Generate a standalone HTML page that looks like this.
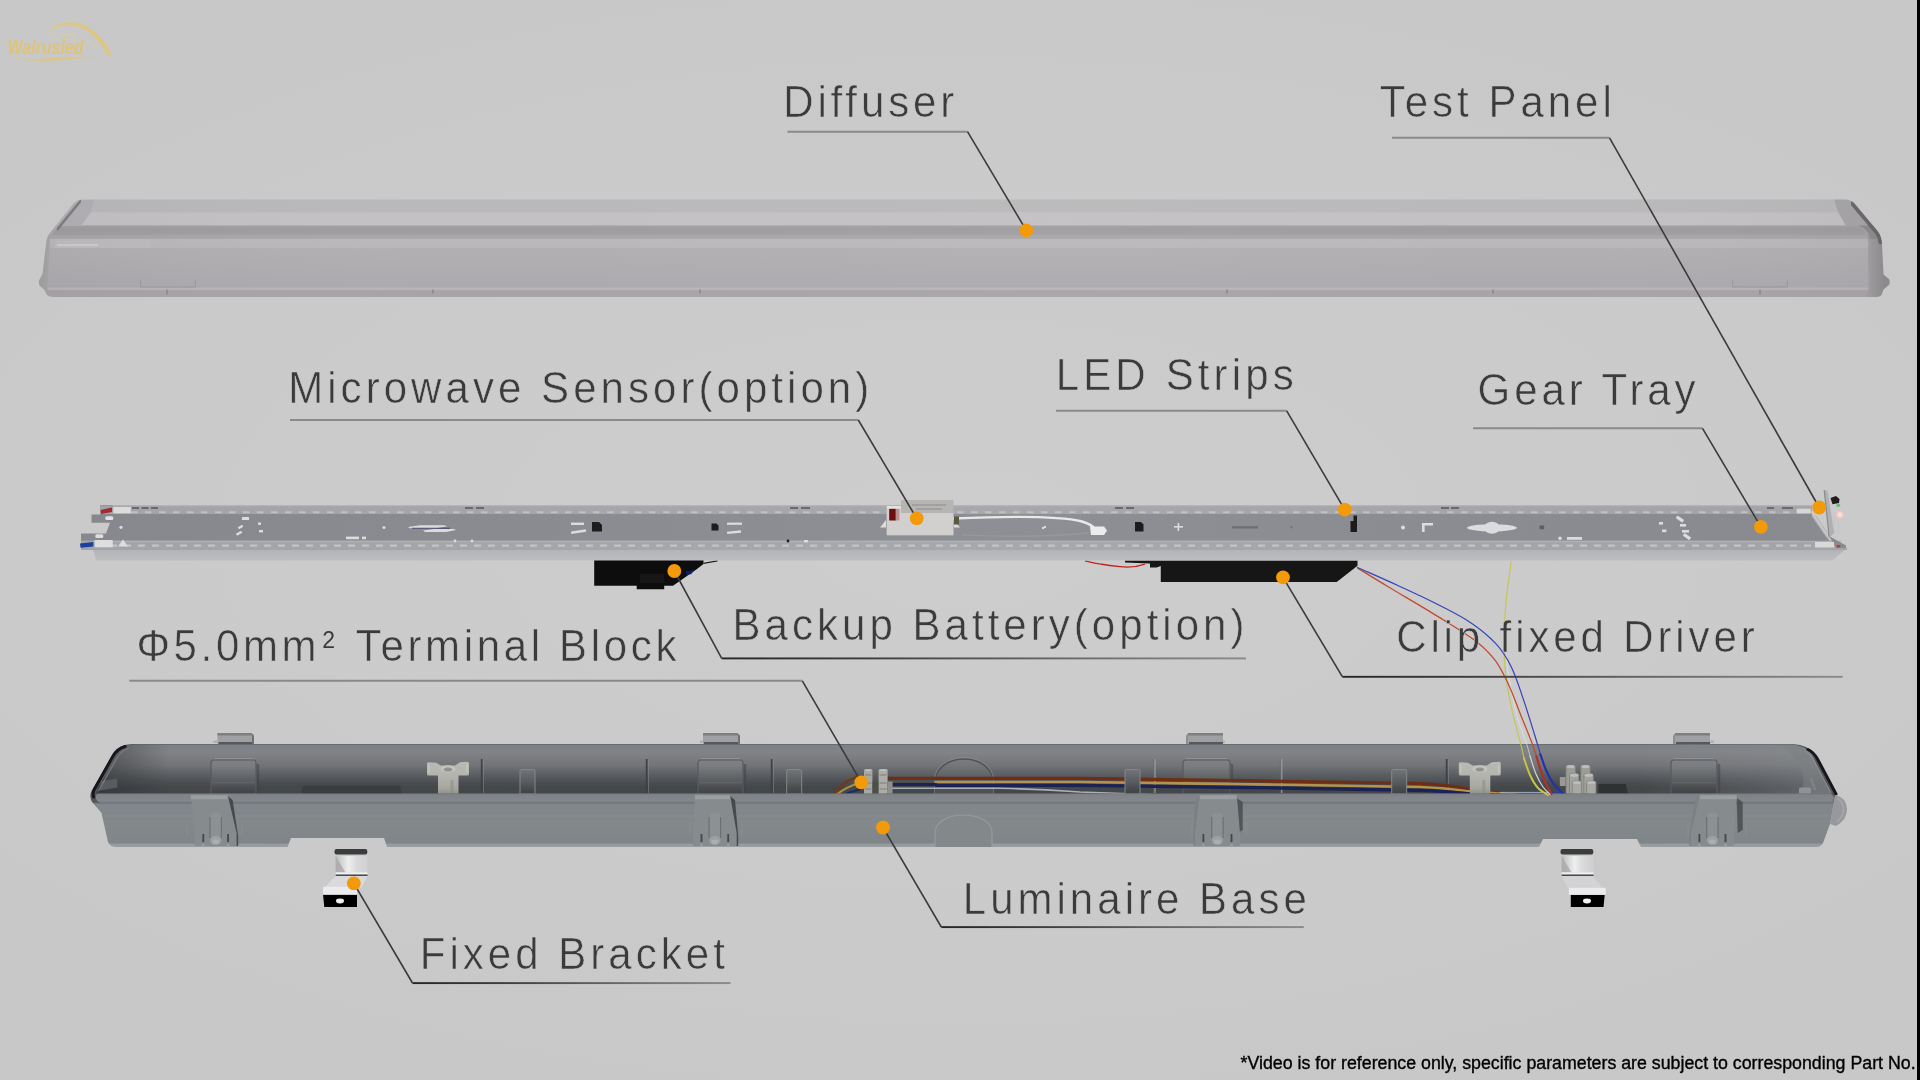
<!DOCTYPE html>
<html lang="en">
<head>
<meta charset="utf-8">
<title>Luminaire exploded view</title>
<style>
html,body{margin:0;padding:0;width:1920px;height:1080px;overflow:hidden;background:#c8c8c8;}
body{font-family:"Liberation Sans",sans-serif;position:relative;}
#stage{position:absolute;left:0;top:0;width:1920px;height:1080px;display:block;}
.lbl{font-family:"Liberation Sans",sans-serif;font-size:42px;fill:#3a3a3a;stroke:#cacaca;stroke-width:0.55px;}
.ul{stroke:#8a8a8a;stroke-width:2;fill:none;}
.dg{stroke:#3a3a3a;stroke-width:1.6;fill:none;}
.dot{fill:#f39a0b;}
.foot{font-family:"Liberation Sans",sans-serif;font-size:17.5px;fill:#000;stroke:#000;stroke-width:0.35;}
</style>
</head>
<body>
<svg id="stage" width="1920" height="1080" viewBox="0 0 1920 1080">
<defs>
<radialGradient id="bg" cx="0.5" cy="0.5" r="0.62" gradientTransform="translate(0 0.08) scale(1 0.84)">
<stop offset="0" stop-color="#cdcdcd"/>
<stop offset="0.6" stop-color="#cbcbcb"/>
<stop offset="1" stop-color="#c8c8c8"/>
</radialGradient>
</defs>
<rect x="0" y="0" width="1920" height="1080" fill="url(#bg)"/>

<!--DIFFUSER-->
<defs>
<filter id="soft" x="-2%" y="-10%" width="104%" height="120%"><feGaussianBlur stdDeviation="0.7"/></filter>
<filter id="soft2" x="-5%" y="-20%" width="110%" height="140%"><feGaussianBlur stdDeviation="1.6"/></filter>
<linearGradient id="dfFront" x1="0" y1="0" x2="0" y2="1">
<stop offset="0" stop-color="#b3b0b4"/><stop offset="0.5" stop-color="#b0adb1"/><stop offset="1" stop-color="#acaaae"/>
</linearGradient>
<linearGradient id="dfDark" x1="0" y1="0" x2="0" y2="1">
<stop offset="0" stop-color="#a4a1a5"/><stop offset="0.3" stop-color="#9f9ca0"/><stop offset="0.68" stop-color="#a3a0a4"/><stop offset="0.75" stop-color="#aaa7ab"/><stop offset="1" stop-color="#aba8ac"/>
</linearGradient>
<linearGradient id="dfH" x1="0" y1="0" x2="1" y2="0">
<stop offset="0" stop-color="#000" stop-opacity="0.03"/><stop offset="0.25" stop-color="#fff" stop-opacity="0"/><stop offset="0.55" stop-color="#fff" stop-opacity="0.03"/><stop offset="0.8" stop-color="#fff" stop-opacity="0"/><stop offset="1" stop-color="#000" stop-opacity="0.03"/>
</linearGradient>
<linearGradient id="dfR" x1="1866" y1="0" x2="1884" y2="0" gradientUnits="userSpaceOnUse">
<stop offset="0" stop-color="#a5a2a6"/><stop offset="1" stop-color="#918e92"/>
</linearGradient>
<linearGradient id="dfL" x1="40" y1="0" x2="58" y2="0" gradientUnits="userSpaceOnUse">
<stop offset="0" stop-color="#a3a0a4"/><stop offset="1" stop-color="#b0adb1"/>
</linearGradient>
<clipPath id="dfClip"><path d="M84 199.500H1845Q1851 199.500 1854.500 203.500L1877.500 231Q1881.500 236 1882 244L1883.500 274.500L1889 279Q1890.500 282 1889 285L1883.500 289.500L1881.500 295Q1880 297 1874 297H54Q48 297 46.500 294.500L44.500 290L39.500 285.500Q38 282 39.500 279.500L42.500 274L46 244Q46.500 237 50.500 232L73.500 203.500Q77 199.500 84 199.500Z"/></clipPath>
</defs>
<g id="diffuser" clip-path="url(#dfClip)">
<g filter="url(#soft)">
<rect x="30" y="190" width="1870" height="115" fill="#b0adb1"/>
<rect x="30" y="190" width="1870" height="22.500" fill="#b9b9bb"/>
<rect x="30" y="212.200" width="1870" height="13.600" fill="#c3c1c4"/>
<rect x="30" y="225.500" width="1870" height="13.700" fill="url(#dfDark)"/>
<rect x="30" y="239" width="1870" height="9" fill="#bbb8bc"/>
<rect x="30" y="247.800" width="1870" height="40" fill="url(#dfFront)"/>
<rect x="30" y="287.600" width="1870" height="2.600" fill="#b8b5b9"/>
<rect x="30" y="290.200" width="1870" height="12" fill="#a8a5a9"/>
<!-- left end cap -->
<path d="M30 190H96L91 212L81 226H30Z" fill="#b2b0b4"/>
<path d="M30 225.500H60Q52 231 50 240L47 300H30Z" fill="url(#dfL)"/>
<path d="M56 239H150V248H54Z" fill="#bdbbbe"/>
<path d="M57 245.200H98" stroke="#dedde0" stroke-width="2.200" opacity="0.5"/>
<!-- right end cap -->
<path d="M1900 190H1831L1838 212L1846 226H1900Z" fill="#a8a5a9"/>
<path d="M1900 225.500H1858Q1868 232 1868 244L1868.500 288L1866 300H1900Z" fill="url(#dfR)"/>
<path d="M1858 225.500Q1869 229 1870 239H1900V225.500Z" fill="#8f8c90"/>
<path d="M1800 239H1866Q1871 243.500 1866 248H1800Z" fill="#b9b6ba"/>
</g>
<path d="M80.500 201L57.500 229" stroke="#737175" stroke-width="2.600" fill="none" stroke-linecap="round" opacity="0.8" filter="url(#soft)"/>
<path d="M1852.500 203.500L1877 232.500Q1880 236 1880.500 242" stroke="#676569" stroke-width="4.400" fill="none" stroke-linecap="round" opacity="0.92" filter="url(#soft)"/>
<rect x="30" y="190" width="1870" height="115" fill="url(#dfH)"/>
</g>
<g stroke="#98959a" stroke-width="1" fill="none" opacity="0.9" filter="url(#soft)">
<path d="M140.500 280.500V287H195.500V280.500"/><path d="M1732.500 280.500V287H1787.500V280.500"/>
<path d="M167 289.500v5M433 289.500v4M700 289.500v4M1227 289.500v4M1493 289.500v4M1760 289.500v5" stroke="#868388" stroke-width="1.500"/>
</g>
<!--TRAY-->
<defs>
<linearGradient id="trPlate" x1="0" y1="0" x2="1" y2="0">
<stop offset="0" stop-color="#87888d"/><stop offset="0.5" stop-color="#8e8f94"/><stop offset="1" stop-color="#898a8f"/>
</linearGradient>
<linearGradient id="trLed" x1="0" y1="0" x2="1" y2="0">
<stop offset="0" stop-color="#a3a4a7"/><stop offset="0.5" stop-color="#a7a8ab"/><stop offset="1" stop-color="#a3a4a7"/>
</linearGradient>
<linearGradient id="trFront" x1="0" y1="0" x2="0" y2="1">
<stop offset="0" stop-color="#b2b3b6"/><stop offset="1" stop-color="#bebec1"/>
</linearGradient>
</defs>
<g id="tray" filter="url(#soft)">
<!-- battery & driver (under tray) -->
<path d="M594.200 560H703.500V564L697 569L673 585.800H664.200V589.200H636.700V585.800H594.200Z" fill="#0d0d0d"/>
<rect x="640" y="574" width="24" height="9" fill="#161616"/>
<path d="M685.800 571l8.500-0.800-3.300 4-5.200 0.300z" fill="#101a70"/>
<path d="M703.500 563.300L717.500 560.800" stroke="#222" stroke-width="1.200"/>
<path d="M1125 560.500H1357.500V565.800L1336.700 582H1160.800V566L1156.500 567.500H1150V563.500L1125 562.500Z" fill="#131313"/>
<path d="M1085 560.800Q1102 565 1120 566.700Q1134 568.200 1145 564.200" stroke="#c4221c" stroke-width="1.300" fill="none"/>
<!-- front edge -->
<path d="M93 549H1846L1832 560.5H96Z" fill="url(#trFront)"/>

<!-- plate -->
<path d="M100 505H1811.500V514L1828 540L1847 550H81V533.500H106L110 522.700H91.500V514.500H100Z" fill="url(#trPlate)"/>
<!-- led strip bands -->
<path d="M100 505.500H1811.500V514H100Z" fill="url(#trLed)"/>
<path d="M81 540.500H1836L1847 548.500V550H81Z" fill="url(#trLed)"/>
<path d="M113 505.6H1815" stroke="#b4b4b6" stroke-width="1.2"/>
<path d="M93 541.4H1841" stroke="#b3b3b6" stroke-width="1"/>
<path d="M117.0 512.2h6.5M131.0 512.2h6.5M145.0 512.2h6.5M159.0 512.2h6.5M173.0 512.2h6.5M187.0 512.2h6.5M201.0 512.2h6.5M215.0 512.2h6.5M229.0 512.2h6.5M243.0 512.2h6.5M257.0 512.2h6.5M271.0 512.2h6.5M285.0 512.2h6.5M299.0 512.2h6.5M313.0 512.2h6.5M327.0 512.2h6.5M341.0 512.2h6.5M355.0 512.2h6.5M369.0 512.2h6.5M383.0 512.2h6.5M397.0 512.2h6.5M411.0 512.2h6.5M425.0 512.2h6.5M439.0 512.2h6.5M453.0 512.2h6.5M467.0 512.2h6.5M481.0 512.2h6.5M495.0 512.2h6.5M509.0 512.2h6.5M523.0 512.2h6.5M537.0 512.2h6.5M551.0 512.2h6.5M565.0 512.2h6.5M579.0 512.2h6.5M593.0 512.2h6.5M607.0 512.2h6.5M621.0 512.2h6.5M635.0 512.2h6.5M649.0 512.2h6.5M663.0 512.2h6.5M677.0 512.2h6.5M691.0 512.2h6.5M705.0 512.2h6.5M719.0 512.2h6.5M733.0 512.2h6.5M747.0 512.2h6.5M761.0 512.2h6.5M775.0 512.2h6.5M789.0 512.2h6.5M803.0 512.2h6.5M817.0 512.2h6.5M831.0 512.2h6.5M845.0 512.2h6.5M859.0 512.2h6.5M873.0 512.2h6.5M887.0 512.2h6.5M901.0 512.2h6.5M915.0 512.2h6.5M929.0 512.2h6.5M943.0 512.2h6.5M957.0 512.2h6.5M971.0 512.2h6.5M985.0 512.2h6.5M999.0 512.2h6.5M1013.0 512.2h6.5M1027.0 512.2h6.5M1041.0 512.2h6.5M1055.0 512.2h6.5M1069.0 512.2h6.5M1083.0 512.2h6.5M1097.0 512.2h6.5M1111.0 512.2h6.5M1125.0 512.2h6.5M1139.0 512.2h6.5M1153.0 512.2h6.5M1167.0 512.2h6.5M1181.0 512.2h6.5M1195.0 512.2h6.5M1209.0 512.2h6.5M1223.0 512.2h6.5M1237.0 512.2h6.5M1251.0 512.2h6.5M1265.0 512.2h6.5M1279.0 512.2h6.5M1293.0 512.2h6.5M1307.0 512.2h6.5M1321.0 512.2h6.5M1335.0 512.2h6.5M1349.0 512.2h6.5M1363.0 512.2h6.5M1377.0 512.2h6.5M1391.0 512.2h6.5M1405.0 512.2h6.5M1419.0 512.2h6.5M1433.0 512.2h6.5M1447.0 512.2h6.5M1461.0 512.2h6.5M1475.0 512.2h6.5M1489.0 512.2h6.5M1503.0 512.2h6.5M1517.0 512.2h6.5M1531.0 512.2h6.5M1545.0 512.2h6.5M1559.0 512.2h6.5M1573.0 512.2h6.5M1587.0 512.2h6.5M1601.0 512.2h6.5M1615.0 512.2h6.5M1629.0 512.2h6.5M1643.0 512.2h6.5M1657.0 512.2h6.5M1671.0 512.2h6.5M1685.0 512.2h6.5M1699.0 512.2h6.5M1713.0 512.2h6.5M1727.0 512.2h6.5M1741.0 512.2h6.5M1755.0 512.2h6.5M1769.0 512.2h6.5M1783.0 512.2h6.5M1797.0 512.2h6.5M1811.0 512.2h6.5" stroke="#c9c9cb" stroke-width="2" opacity="0.75" fill="none"/>
<path d="M96.0 545.7h7M110.0 545.7h7M124.0 545.7h7M138.0 545.7h7M152.0 545.7h7M166.0 545.7h7M180.0 545.7h7M194.0 545.7h7M208.0 545.7h7M222.0 545.7h7M236.0 545.7h7M250.0 545.7h7M264.0 545.7h7M278.0 545.7h7M292.0 545.7h7M306.0 545.7h7M320.0 545.7h7M334.0 545.7h7M348.0 545.7h7M362.0 545.7h7M376.0 545.7h7M390.0 545.7h7M404.0 545.7h7M418.0 545.7h7M432.0 545.7h7M446.0 545.7h7M460.0 545.7h7M474.0 545.7h7M488.0 545.7h7M502.0 545.7h7M516.0 545.7h7M530.0 545.7h7M544.0 545.7h7M558.0 545.7h7M572.0 545.7h7M586.0 545.7h7M600.0 545.7h7M614.0 545.7h7M628.0 545.7h7M642.0 545.7h7M656.0 545.7h7M670.0 545.7h7M684.0 545.7h7M698.0 545.7h7M712.0 545.7h7M726.0 545.7h7M740.0 545.7h7M754.0 545.7h7M768.0 545.7h7M782.0 545.7h7M796.0 545.7h7M810.0 545.7h7M824.0 545.7h7M838.0 545.7h7M852.0 545.7h7M866.0 545.7h7M880.0 545.7h7M894.0 545.7h7M908.0 545.7h7M922.0 545.7h7M936.0 545.7h7M950.0 545.7h7M964.0 545.7h7M978.0 545.7h7M992.0 545.7h7M1006.0 545.7h7M1020.0 545.7h7M1034.0 545.7h7M1048.0 545.7h7M1062.0 545.7h7M1076.0 545.7h7M1090.0 545.7h7M1104.0 545.7h7M1118.0 545.7h7M1132.0 545.7h7M1146.0 545.7h7M1160.0 545.7h7M1174.0 545.7h7M1188.0 545.7h7M1202.0 545.7h7M1216.0 545.7h7M1230.0 545.7h7M1244.0 545.7h7M1258.0 545.7h7M1272.0 545.7h7M1286.0 545.7h7M1300.0 545.7h7M1314.0 545.7h7M1328.0 545.7h7M1342.0 545.7h7M1356.0 545.7h7M1370.0 545.7h7M1384.0 545.7h7M1398.0 545.7h7M1412.0 545.7h7M1426.0 545.7h7M1440.0 545.7h7M1454.0 545.7h7M1468.0 545.7h7M1482.0 545.7h7M1496.0 545.7h7M1510.0 545.7h7M1524.0 545.7h7M1538.0 545.7h7M1552.0 545.7h7M1566.0 545.7h7M1580.0 545.7h7M1594.0 545.7h7M1608.0 545.7h7M1622.0 545.7h7M1636.0 545.7h7M1650.0 545.7h7M1664.0 545.7h7M1678.0 545.7h7M1692.0 545.7h7M1706.0 545.7h7M1720.0 545.7h7M1734.0 545.7h7M1748.0 545.7h7M1762.0 545.7h7M1776.0 545.7h7M1790.0 545.7h7M1804.0 545.7h7M1818.0 545.7h7M1832.0 545.7h7" stroke="#cbcbca" stroke-width="2.2" opacity="0.8" fill="none"/>
<path d="M465 508h8M476 508h8M790 508h8M801 508h9M1115 508h8M1126 508h8M1441 508h8M1451 508h8M1767 508h7M1782 508h11" stroke="#5c5c60" stroke-width="2" opacity="0.8"/>
<!-- left end tabs -->
<path d="M100.500 510L112 507.500V512L101 514Z" fill="#a32a30"/><rect x="113.300" y="507" width="17.500" height="6.300" fill="#dcdcda"/><path d="M132 508H159" stroke="#6a6a6e" stroke-width="2.200" stroke-dasharray="7 2.500"/><rect x="105.300" y="516.300" width="8" height="3.700" rx="1.500" fill="#e2e2e3"/><rect x="95.300" y="534.300" width="8" height="3.700" rx="1.500" fill="#dededf"/><path d="M118 546.500L123 539.500L128 546.500Z" fill="#dcdcdd"/>
<path d="M80 543.500L93.300 542V546.500L80.500 547.800Z" fill="#1a3fa0"/><rect x="94.700" y="540" width="18" height="7.300" fill="#dededf"/>
<!-- plate cut-outs (white marks) -->
<g fill="#dcdcde">
<circle cx="121" cy="527.3" r="1.6"/><rect x="242" y="517" width="7" height="3"/><rect x="238" y="526" width="5" height="2.5" transform="rotate(-30 240 527)"/><rect x="236" y="532" width="6" height="2.5" transform="rotate(-30 239 533)"/>
<rect x="258" y="522.5" width="3" height="2.4"/><rect x="259" y="530" width="4" height="2.4"/>
<rect x="346" y="536.6" width="13" height="2.6"/><rect x="362" y="536.6" width="4" height="2.6"/>
<path d="M408 527L420 525.200H444L447.500 526.200L436 528.200H410Z"/><path d="M423 530.500L434 529H454L456 530L446 532H425Z"/><circle cx="384" cy="527.500" r="1.500"/>
<circle cx="455" cy="541" r="1.4"/><circle cx="472" cy="541" r="1.4"/>
<rect x="571" y="522.6" width="13" height="2.4"/><rect x="571" y="530.4" width="15" height="2.6" transform="rotate(-8 578 531)"/>
<rect x="727" y="522.6" width="15" height="2.2"/><rect x="727" y="531" width="14" height="2.4" transform="rotate(-6 734 532)"/>
<rect x="804" y="540" width="4" height="2.4"/>
<circle cx="1045" cy="527" r="1.2"/>
<rect x="1174" y="526" width="9" height="1.6"/><rect x="1177.6" y="523" width="1.6" height="8"/>
<circle cx="1403" cy="527.6" r="2"/><path d="M1422 523h11v2.4h-8.4v6.6h-2.6z"/>
<ellipse cx="1492" cy="527.8" rx="25" ry="3.6"/><ellipse cx="1492" cy="527.8" rx="8" ry="6"/>
<circle cx="1560" cy="538.3" r="1.7"/><rect x="1567" y="537" width="15" height="2.8"/>
<rect x="1659" y="522" width="4" height="2.6"/><rect x="1662" y="529.5" width="4.4" height="2.6"/>
<rect x="1676" y="517.5" width="8" height="3.2" transform="rotate(35 1680 519)"/><rect x="1680" y="524" width="6" height="2.6"/><rect x="1682" y="530" width="7" height="2.6"/><rect x="1683" y="535" width="8" height="3.2" transform="rotate(35 1687 536.5)"/>
<rect x="1801" y="526.4" width="6" height="2.8"/>
</g>
<path d="M412 528.300L450 528.300" stroke="#3a3a60" stroke-width="1.100" opacity="0.85"/>
<path d="M1232 527.4H1258" stroke="#6c6d71" stroke-width="2.2"/><circle cx="1291.5" cy="527.3" r="1.3" fill="#77787c"/>
<rect x="1539.500" y="525.5" width="4.600" height="3.800" fill="#5c5d61"/>
<!-- black clips -->
<g fill="#1a1a1b">
<path d="M592 522h7l3 3v6.600h-10z"/><path d="M593 523.500h6l2 2.500v5h-8z" transform="translate(0 0)"/>
<path d="M711.500 523.500h5l2 2v5h-7z"/>
<path d="M1135 522h6l2.500 2.500v7h-8.500z"/>
<path d="M1350.500 521h3v-5.500h3.500v16.500h-6.500z"/>
<circle cx="788" cy="541" r="1.4"/>
</g>
<!-- cable loop -->
<path d="M962 534.800Q1030 538.500 1088 533" stroke="#97989c" stroke-width="1.300" fill="none"/>
<path d="M953 518.500C1000 516.500 1060 516 1082 521.500Q1092 524.500 1095 529" stroke="#e9e9ea" stroke-width="2.400" fill="none"/>
<path d="M1090 526.500h14l3 4-3 4.500h-13z" fill="#ececed"/>
<circle cx="1043" cy="528" r="1.200" fill="#dcdcde"/>
<!-- microwave sensor -->
<path d="M880 527.500L886 520V527.500ZM960 527.500L954 520V527.500Z" fill="#dcdcdd"/><rect x="954" y="516.500" width="5" height="8" fill="#5a5a42"/>
<path d="M886.600 506H901V513H953.500V535H886.600Z" fill="#d1d0ce"/>
<rect x="901" y="500" width="52.500" height="13" fill="#b6b5b3"/>
<path d="M912 505h34M916 509h26" stroke="#929295" stroke-width="1.400" opacity="0.8"/>
<rect x="889.200" y="508.700" width="6.600" height="11.800" fill="#6d0d0d"/><rect x="895.800" y="508.700" width="3.600" height="11.800" fill="#b89090"/><rect x="887" y="506" width="14" height="2.500" fill="#e4e3e2"/>
<path d="M887 535.400H953.500" stroke="#a9a9ac" stroke-width="1"/>
<!-- test panel -->
<path d="M1811 514L1828 538.500L1829.500 540.500H1800V514Z" fill="#8a8b90"/>
<path d="M1829 536L1846 545.500V548H1836Z" fill="#8d888b"/>
<path d="M1812 515.500L1827.500 538" stroke="#b7b7ba" stroke-width="1.300"/><path d="M1815.500 515.500L1830 537" stroke="#a9a9ad" stroke-width="1" opacity="0.8"/>
<rect x="1796.700" y="508.700" width="14" height="4.600" fill="#d7d7d8"/>
<rect x="1815" y="542" width="19" height="5.500" fill="#d9d9da"/><rect x="1836.700" y="545" width="3.500" height="2.500" fill="#b0404a"/>
<path d="M1834.200 517.500V533.500M1838.300 519V535" stroke="#c5c5c8" stroke-width="1.500"/>
<path d="M1824.200 490L1827.500 490.800L1834.200 533.300L1829.200 537.500Z" fill="#b0b0b4"/>
<path d="M1824.200 490L1829.200 537.500" stroke="#8a8a8f" stroke-width="1.200"/>
<path d="M1830.500 498l5.500-2 3.500 3-0.500 4-6.500 1.200z" fill="#241a1e"/>
<circle cx="1838.300" cy="505.200" r="1.800" fill="#59c070"/>
<circle cx="1840" cy="514.600" r="4.600" fill="#f0c4ba" opacity="0.75"/><circle cx="1840" cy="514.600" r="2.600" fill="#f9ddd6"/>
</g>
<!--BASE-->
<defs>
<linearGradient id="bsIn" x1="0" y1="744" x2="0" y2="794" gradientUnits="userSpaceOnUse">
<stop offset="0" stop-color="#7d8286"/><stop offset="0.16" stop-color="#818387"/><stop offset="0.42" stop-color="#737478"/><stop offset="0.56" stop-color="#626568"/><stop offset="0.72" stop-color="#505357"/><stop offset="0.86" stop-color="#44474a"/><stop offset="1" stop-color="#434649"/>
</linearGradient>
<linearGradient id="bsFace" x1="0" y1="802" x2="0" y2="847" gradientUnits="userSpaceOnUse">
<stop offset="0" stop-color="#53575b"/><stop offset="0.045" stop-color="#81868a"/><stop offset="0.5" stop-color="#83888b"/><stop offset="0.91" stop-color="#80858a"/><stop offset="0.94" stop-color="#969b9e"/><stop offset="1" stop-color="#999ea1"/>
</linearGradient>
<linearGradient id="bsRim" x1="0" y1="793" x2="0" y2="803" gradientUnits="userSpaceOnUse">
<stop offset="0" stop-color="#64686c"/><stop offset="0.15" stop-color="#7f8388"/><stop offset="0.8" stop-color="#83878c"/><stop offset="1" stop-color="#70747a"/>
</linearGradient>
<linearGradient id="bsBoss" x1="0" y1="759" x2="0" y2="794" gradientUnits="userSpaceOnUse">
<stop offset="0" stop-color="#808286"/><stop offset="0.2" stop-color="#7a7c80"/><stop offset="0.45" stop-color="#666a6d"/><stop offset="0.7" stop-color="#54585b"/><stop offset="0.9" stop-color="#44474a"/><stop offset="1" stop-color="#3f4245"/>
</linearGradient>
<linearGradient id="bsLE" x1="96" y1="0" x2="170" y2="0" gradientUnits="userSpaceOnUse">
<stop offset="0" stop-color="#2e3032" stop-opacity="0.55"/><stop offset="0.45" stop-color="#2e3032" stop-opacity="0.3"/><stop offset="1" stop-color="#2e3032" stop-opacity="0"/>
</linearGradient>
<linearGradient id="bsRE" x1="1640" y1="0" x2="1831" y2="0" gradientUnits="userSpaceOnUse">
<stop offset="0" stop-color="#8a8e91" stop-opacity="0"/><stop offset="0.6" stop-color="#8a8e91" stop-opacity="0.25"/><stop offset="1" stop-color="#8a8e91" stop-opacity="0.5"/>
</linearGradient>
<linearGradient id="tclip" x1="0" y1="761" x2="0" y2="795" gradientUnits="userSpaceOnUse">
<stop offset="0" stop-color="#b9bab5"/><stop offset="0.45" stop-color="#b3b4ae"/><stop offset="0.8" stop-color="#a5a6a0"/><stop offset="1" stop-color="#8c8d87"/>
</linearGradient>
<linearGradient id="brk" x1="0" y1="0" x2="1" y2="0">
<stop offset="0" stop-color="#bcbcbf"/><stop offset="0.4" stop-color="#eeeeef"/><stop offset="0.65" stop-color="#dadadc"/><stop offset="1" stop-color="#cfcfd2"/>
</linearGradient>
<linearGradient id="bsInH" x1="96" y1="0" x2="1831" y2="0" gradientUnits="userSpaceOnUse">
<stop offset="0" stop-color="#fff" stop-opacity="0.08"/><stop offset="0.1" stop-color="#000" stop-opacity="0.04"/><stop offset="0.3" stop-color="#000" stop-opacity="0.12"/><stop offset="0.42" stop-color="#fff" stop-opacity="0.03"/><stop offset="0.55" stop-color="#fff" stop-opacity="0.12"/><stop offset="0.75" stop-color="#fff" stop-opacity="0.08"/><stop offset="0.88" stop-color="#fff" stop-opacity="0.0"/><stop offset="1" stop-color="#fff" stop-opacity="0.1"/>
</linearGradient>
<linearGradient id="bsInV" x1="0" y1="744" x2="0" y2="794" gradientUnits="userSpaceOnUse"><stop offset="0" stop-color="#fff" stop-opacity="0"/><stop offset="0.3" stop-color="#fff" stop-opacity="0.3"/><stop offset="1" stop-color="#fff" stop-opacity="1"/></linearGradient>
<mask id="bsInM"><rect x="90" y="744" width="1760" height="50" fill="url(#bsInV)"/></mask>
</defs>
<g id="base" filter="url(#soft)">
<path d="M213.5 740.5H217.5V743H213.5ZM252 740.5H252V743H252Z" fill="#b0b0b4"/><path d="M252 733.6L254 735.5V744H252Z" fill="#6f7073"/><path d="M217.5 733H252V744.5H217.5Z" fill="#9fa0a4"/><path d="M217.5 734.2H252" stroke="#7f7f82" stroke-width="2.4"/><path d="M218.5 743H252" stroke="#56575b" stroke-width="1.8"/>
<path d="M700 740.5H703V743H700ZM738 740.5H740V743H738Z" fill="#b0b0b4"/><path d="M738 733.6L740 735.5V744H738Z" fill="#6f7073"/><path d="M703 733H738V744.5H703Z" fill="#9fa0a4"/><path d="M703 734.2H738" stroke="#7f7f82" stroke-width="2.4"/><path d="M704 743H738" stroke="#56575b" stroke-width="1.8"/>
<path d="M1186 740.5H1188V743H1186ZM1223 740.5H1225V743H1223Z" fill="#b0b0b4"/><path d="M1188 733.6L1186 735.5V744H1188Z" fill="#8d8e92"/><path d="M1188 733H1223V744.5H1188Z" fill="#9fa0a4"/><path d="M1188 734.2H1223" stroke="#7f7f82" stroke-width="2.4"/><path d="M1189 743H1223" stroke="#56575b" stroke-width="1.8"/>
<path d="M1675 740.5H1675V743H1675ZM1710 740.5H1714V743H1710Z" fill="#b0b0b4"/><path d="M1675 733.6L1673 735.5V744H1675Z" fill="#8d8e92"/><path d="M1675 733H1710V744.5H1675Z" fill="#9fa0a4"/><path d="M1675 734.2H1710" stroke="#7f7f82" stroke-width="2.4"/><path d="M1676 743H1710" stroke="#56575b" stroke-width="1.8"/>
<path d="M132 744H1793Q1808 745 1815 754L1834 790Q1836 794 1835 798L1830 824L1823 843Q1821 847 1816 847H1641L1637 839H1543L1539 847H387L384 838H291L287.5 847H116Q110 847 108 842L101.5 813L92 802Q89 797 91.5 791L112 756Q119 744 132 744Z" fill="url(#bsFace)"/>
<path d="M134 744.5H1792Q1806 746 1812 755L1831 794H96Q98 786 102 780L116 757Q122 745 134 744.5Z" fill="url(#bsIn)"/>
<path d="M134 744.500Q122 745 116 757L100 786Q98 790 98 794H170V744.500Z" fill="url(#bsLE)"/>
<path d="M1640 744.5H1792Q1806 746 1812 755L1831 794H1640Z" fill="url(#bsRE)"/>
<path d="M1792 745Q1806 746 1812 755L1831 794H1800Q1808 780 1798 762L1788 750Q1784 746 1776 745Z" fill="#7b7f82" opacity="0.55"/>
<path d="M481.7 759V793" stroke="#3d3f42" stroke-width="1.8" opacity="0.9"/><path d="M483.5 759V793" stroke="#8a8d91" stroke-width="1" opacity="0.5"/>
<path d="M646.7 759V793" stroke="#3d3f42" stroke-width="1.8" opacity="0.9"/><path d="M648.5 759V793" stroke="#8a8d91" stroke-width="1" opacity="0.5"/>
<path d="M771.7 759V793" stroke="#3d3f42" stroke-width="1.8" opacity="0.9"/><path d="M773.5 759V793" stroke="#8a8d91" stroke-width="1" opacity="0.5"/>
<path d="M1155 759V793" stroke="#9a9da1" stroke-width="1.5" opacity="0.8"/><path d="M1153.5 759V793" stroke="#66696d" stroke-width="1" opacity="0.5"/>
<path d="M1281.7 759V793" stroke="#9a9da1" stroke-width="1.5" opacity="0.8"/><path d="M1280.2 759V793" stroke="#66696d" stroke-width="1" opacity="0.5"/>
<path d="M1446.7 759V793" stroke="#3d3f42" stroke-width="1.8" opacity="0.9"/><path d="M1448.5 759V793" stroke="#8a8d91" stroke-width="1" opacity="0.5"/>
<path d="M936 794V779A28 20 0 0 1 992 779V794" fill="#808387" fill-opacity="0.18" stroke="#4f5256" stroke-width="1.4"/><path d="M934.6 794V779A29.4 21.4 0 0 1 993.4 779V794" fill="none" stroke="#8f9296" stroke-width="1" opacity="0.6"/>
<path d="M303 785.5H400L402 794H301Z" fill="#3b3e41"/><path d="M1598.500 784H1626L1628 794.600H1598.500Z" fill="#2f3133"/>
<path d="M214 758.6H253" stroke="#8f9195" stroke-width="1.4"/><path d="M214 760H253Q256 760 256 763V794H211V763Q211 760 214 760Z" fill="url(#bsBoss)" stroke="#585a5e" stroke-width="1.2"/><path d="M212 782.6H255" stroke="#63676a" stroke-width="1.2" opacity="0.8"/><path d="M258 764V793" stroke="#3f4245" stroke-width="2.4" opacity="0.5"/>
<path d="M701 758.6H740" stroke="#8f9195" stroke-width="1.4"/><path d="M701 760H740Q743 760 743 763V794H698V763Q698 760 701 760Z" fill="url(#bsBoss)" stroke="#585a5e" stroke-width="1.2"/><path d="M699 782.6H742" stroke="#63676a" stroke-width="1.2" opacity="0.8"/><path d="M745 764V793" stroke="#3f4245" stroke-width="2.4" opacity="0.5"/>
<path d="M1186 758.6H1227" stroke="#8f9195" stroke-width="1.4"/><path d="M1186 760H1227Q1230 760 1230 763V794H1183V763Q1183 760 1186 760Z" fill="url(#bsBoss)" stroke="#585a5e" stroke-width="1.2"/><path d="M1184 782.6H1229" stroke="#63676a" stroke-width="1.2" opacity="0.8"/><path d="M1232 764V793" stroke="#3f4245" stroke-width="2.4" opacity="0.5"/>
<path d="M1674 758.6H1714" stroke="#8f9195" stroke-width="1.4"/><path d="M1674 760H1714Q1717 760 1717 763V794H1671V763Q1671 760 1674 760Z" fill="url(#bsBoss)" stroke="#585a5e" stroke-width="1.2"/><path d="M1672 782.6H1716" stroke="#63676a" stroke-width="1.2" opacity="0.8"/><path d="M1719 764V793" stroke="#3f4245" stroke-width="2.4" opacity="0.5"/>
<g fill="none" stroke-linecap="round">
<path d="M834 794Q842 782 857 777" stroke="#6e3a1c" stroke-width="2.6"/>
<path d="M836 795Q846 787 859 783" stroke="#a98f45" stroke-width="2"/>
<path d="M840 796Q850 792 861 789" stroke="#1f2a6a" stroke-width="2.2"/>
<path d="M888 778.4H1080L1300 781.5L1420 783.5Q1446 784.5 1466 788.5L1500 793" stroke="#6e2e14" stroke-width="3.2"/>
<path d="M936 782H1080L1300 785L1420 787Q1446 788 1466 791L1518 795" stroke="#b3944f" stroke-width="2.6"/>
<path d="M888 784.5H936" stroke="#1b2154" stroke-width="3.2"/>
<path d="M936 785.4H1080L1300 788.3L1420 790.3Q1446 791.3 1466 793.4L1520 796" stroke="#1b2154" stroke-width="3.2"/>
<path d="M890 788.3H1000Q1040 789 1080 792L1150 794.5" stroke="#a9b0b8" stroke-width="1.6"/>
<path d="M1520 793H1562" stroke="#2b3da8" stroke-width="1.4"/><path d="M1500 792.4H1548" stroke="#d6d6d6" stroke-width="1" opacity="0.7"/>
</g>
<path d="M520 771Q520 769.5 521.5 769.5H533.5Q535 769.5 535 771V794H520Z" fill="url(#bsBoss)" stroke="#84878b" stroke-width="1"/>
<path d="M786.7 771Q786.7 769.5 788.2 769.5H800.2Q801.7 769.5 801.7 771V794H786.7Z" fill="url(#bsBoss)" stroke="#84878b" stroke-width="1"/>
<path d="M1125 771Q1125 769.5 1126.5 769.5H1138.5Q1140 769.5 1140 771V794H1125Z" fill="url(#bsBoss)" stroke="#84878b" stroke-width="1"/>
<path d="M1391.7 771Q1391.7 769.5 1393.2 769.5H1405.2Q1406.7 769.5 1406.7 771V794H1391.7Z" fill="url(#bsBoss)" stroke="#84878b" stroke-width="1"/>
<path d="M427 763.500Q427 762.300 428.5 762.300L436 762.800L441 765.500H455L460 762.300L467.5 761.800Q469 761.800 469 763.500V774Q469 775.600 467 775.600H458.5V794.300H438V775.600H429Q427 775.600 427 774Z" fill="url(#tclip)"/><ellipse cx="448" cy="768.800" rx="7.500" ry="3.600" fill="#c3c4bf"/><ellipse cx="448" cy="769.400" rx="4.200" ry="2" fill="#92938c"/><path d="M429 764.500V773M467 764.500V773" stroke="#c6c8c6" stroke-width="1.600" opacity="0.8"/><path d="M452 780V793" stroke="#8d8e88" stroke-width="3" opacity="0.6"/>
<path d="M1458.8 763.500Q1458.8 762.300 1460.3 762.300L1467.8 762.800L1472.8 765.500H1486.8L1491.8 762.300L1499.3 761.800Q1500.8 761.800 1500.8 763.500V774Q1500.8 775.600 1498.8 775.600H1490.3V794.300H1469.8V775.600H1460.8Q1458.8 775.600 1458.8 774Z" fill="url(#tclip)"/><ellipse cx="1479.8" cy="768.800" rx="7.500" ry="3.600" fill="#c3c4bf"/><ellipse cx="1479.8" cy="769.400" rx="4.200" ry="2" fill="#92938c"/><path d="M1460.8 764.500V773M1498.8 764.500V773" stroke="#c6c8c6" stroke-width="1.600" opacity="0.8"/><path d="M1483.8 780V793" stroke="#8d8e88" stroke-width="3" opacity="0.6"/>
<rect x="1799" y="787.500" width="12" height="6.500" rx="1.500" fill="#8f9396"/><path d="M1811 778l4 12" stroke="#85898c" stroke-width="2.500" opacity="0.7"/>
<path d="M101 781l16 -2.500 0.500 9 -17 3z" fill="#5c5f62" opacity="0.9"/>
<g>
<rect x="864" y="769" width="8.4" height="25.5" rx="1.2" fill="#a9a9a4"/><rect x="878.6" y="769" width="9" height="25.5" rx="1.2" fill="#adada8"/>
<rect x="872.6" y="782" width="5.6" height="12.5" fill="#4a5244"/><rect x="887.6" y="781.5" width="5" height="13" fill="#8f908c"/>
<path d="M865 775h6.4M879.6 775h7M865 783h6.4M879.6 783h7M865 789h6.4M879.6 789h7" stroke="#7f7f7a" stroke-width="1.2"/>
<path d="M866 770.2h4.4M880.6 770.2h5" stroke="#c2c4c4" stroke-width="1.4"/>
</g>
<g><rect x="1559.800" y="777" width="6" height="9" rx="1" fill="#9a9a95"/><rect x="1566.0" y="765.0" width="9.400" height="29.6" rx="2" fill="#9c9c97" stroke="#7d7d78" stroke-width="0.800"/><ellipse cx="1570.7" cy="766.6" rx="4.200" ry="1.700" fill="#b9bdc0"/><rect x="1580.8" y="765.0" width="9.400" height="29.6" rx="2" fill="#9c9c97" stroke="#7d7d78" stroke-width="0.800"/><ellipse cx="1585.5" cy="766.6" rx="4.200" ry="1.700" fill="#b9bdc0"/><rect x="1569.5" y="773.6" width="9.400" height="21.0" rx="2" fill="#a3a39e" stroke="#7d7d78" stroke-width="0.800"/><ellipse cx="1574.2" cy="775.2" rx="4.200" ry="1.700" fill="#b9bdc0"/><rect x="1583.9" y="773.6" width="9.400" height="21.0" rx="2" fill="#a3a39e" stroke="#7d7d78" stroke-width="0.800"/><ellipse cx="1588.6" cy="775.2" rx="4.200" ry="1.700" fill="#b9bdc0"/><rect x="1572.2" y="781.0" width="9.400" height="13.6" rx="2" fill="#a9a9a4" stroke="#7d7d78" stroke-width="0.800"/><ellipse cx="1576.9" cy="782.6" rx="4.200" ry="1.700" fill="#b9bdc0"/><rect x="1586.6" y="781.0" width="9.400" height="13.6" rx="2" fill="#a9a9a4" stroke="#7d7d78" stroke-width="0.800"/><ellipse cx="1591.3" cy="782.6" rx="4.200" ry="1.700" fill="#b9bdc0"/></g>
<path d="M96.5 794.5Q97 793.5 99 793.5H1831L1834 797L1833 803H101Q94 801 96.5 794.5Z" fill="url(#bsRim)"/>
<path d="M99 794H1831" stroke="#74777b" stroke-width="1" opacity="0.6"/>
<path d="M125 746.5Q117.5 748.5 113 756L94 790Q92.500 793.500 93.500 797" stroke="#17181a" stroke-width="3" fill="none" stroke-linecap="round"/><path d="M128.500 748.500Q121.500 750.500 117 758L98.500 791" stroke="#7d8185" stroke-width="1.200" fill="none" opacity="0.9"/>
<path d="M1808 749.500Q1813.500 752 1817.500 759L1836 794" stroke="#17181a" stroke-width="3" fill="none" stroke-linecap="round"/><path d="M1804 750.500Q1809.500 753 1813.500 760L1831 793" stroke="#8b8f92" stroke-width="1.200" fill="none" opacity="0.9"/>
<path d="M1835 795Q1846 797 1847 809Q1847 820 1836 826L1830 824L1834 800Z" fill="#98999c"/><path d="M1837 798Q1843 801 1843.500 809Q1843 817 1837 822" stroke="#a9aaad" stroke-width="2" fill="none" opacity="0.7"/>
<path d="M104 816H1828" stroke="#8f9497" stroke-width="1" opacity="0.5"/>
<path d="M935 847V832A28.5 17 0 0 1 992 832V847" fill="#83888b" stroke="#969b9e" stroke-width="1.2"/><path d="M950 826a13 9 0 0 0 26 0" stroke="#83868a" stroke-width="1" fill="none"/>
<path d="M227.6 796L232.6 800L238.1 836V846H232.6Z" fill="#3f4245" opacity="0.9"/><path d="M190.8 794.5H227.6L236.6 833V846H229.6V838.5H226.6V846H204.8V838.5H201.8V846H194.8V833Z" fill="#868b8e"/><path d="M190.8 797.2H227.6" stroke="#999ea1" stroke-width="4"/><path d="M210.2 817Q209.7 812.5 215.7 812.5Q221.7 812.5 221.2 817V840H210.2Z" fill="#8c9194"/><path d="M210.0 817V838M221.4 817V838" stroke="#6c7174" stroke-width="1.2"/><ellipse cx="215.7" cy="840.5" rx="5.5" ry="4.5" fill="#9ca1a4"/><ellipse cx="215.7" cy="841.8" rx="3.4" ry="2.2" fill="#aaafb2"/><path d="M203.3 834V842M228.1 834V842" stroke="#44474a" stroke-width="1.8"/>
<path d="M730.0 796L735.0 800L738.2 836V846H732.7Z" fill="#3f4245" opacity="0.9"/><path d="M695.0 794.5H730.0L736.7 833V846H729.7V838.5H726.7V846H703.0V838.5H700.0V846H693.0V833Z" fill="#868b8e"/><path d="M695.0 797.2H730.0" stroke="#999ea1" stroke-width="4"/><path d="M709.4 817Q708.9 812.5 714.9 812.5Q720.9 812.5 720.4 817V840H709.4Z" fill="#8c9194"/><path d="M709.1 817V838M720.6 817V838" stroke="#6c7174" stroke-width="1.2"/><ellipse cx="714.9" cy="840.5" rx="5.5" ry="4.5" fill="#9ca1a4"/><ellipse cx="714.9" cy="841.8" rx="3.4" ry="2.2" fill="#aaafb2"/><path d="M701.5 834V842M728.2 834V842" stroke="#44474a" stroke-width="1.8"/>
<path d="M1199.9 796L1194.9 800L1193.4 836V846H1198.9Z" fill="#7b8083" opacity="0.95"/><path d="M1236.7 798L1242.7 802V830L1237.7 833Z" fill="#45484b" opacity="0.8"/><path d="M1199.9 794.5H1236.7L1240.0 833V846H1233.0V838.5H1230.0V846H1204.9V838.5H1201.9V846H1194.9V833Z" fill="#868b8e"/><path d="M1199.9 797.2H1236.7" stroke="#999ea1" stroke-width="4"/><path d="M1211.9 817Q1211.4 812.5 1217.4 812.5Q1223.4 812.5 1222.9 817V840H1211.9Z" fill="#8c9194"/><path d="M1211.7 817V838M1223.1 817V838" stroke="#6c7174" stroke-width="1.2"/><ellipse cx="1217.4" cy="840.5" rx="5.5" ry="4.5" fill="#9ca1a4"/><ellipse cx="1217.4" cy="841.8" rx="3.4" ry="2.2" fill="#aaafb2"/><path d="M1203.4 834V842M1231.5 834V842" stroke="#44474a" stroke-width="1.8"/>
<path d="M1699.9 796L1694.9 800L1689.4 836V846H1694.9Z" fill="#7b8083" opacity="0.95"/><path d="M1736.7 798L1742.7 802V830L1737.7 833Z" fill="#45484b" opacity="0.8"/><path d="M1699.9 794.5H1736.7L1734.0 833V846H1727.0V838.5H1724.0V846H1700.9V838.5H1697.9V846H1690.9V833Z" fill="#868b8e"/><path d="M1699.9 797.2H1736.7" stroke="#999ea1" stroke-width="4"/><path d="M1706.9 817Q1706.4 812.5 1712.4 812.5Q1718.4 812.5 1717.9 817V840H1706.9Z" fill="#8c9194"/><path d="M1706.7 817V838M1718.1 817V838" stroke="#6c7174" stroke-width="1.2"/><ellipse cx="1712.4" cy="840.5" rx="5.5" ry="4.5" fill="#9ca1a4"/><ellipse cx="1712.4" cy="841.8" rx="3.4" ry="2.2" fill="#aaafb2"/><path d="M1699.4 834V842M1725.5 834V842" stroke="#44474a" stroke-width="1.8"/>
<path d="M187 822V836" stroke="#8f9497" stroke-width="1.2" opacity="0.5"/>
<path d="M242 822V836" stroke="#8f9497" stroke-width="1.2" opacity="0.5"/>
<path d="M690 822V836" stroke="#8f9497" stroke-width="1.2" opacity="0.5"/>
<path d="M742 822V836" stroke="#8f9497" stroke-width="1.2" opacity="0.5"/>
<path d="M1192 822V836" stroke="#8f9497" stroke-width="1.2" opacity="0.5"/>
<path d="M1246 822V836" stroke="#8f9497" stroke-width="1.2" opacity="0.5"/>
<path d="M1688 822V836" stroke="#8f9497" stroke-width="1.2" opacity="0.5"/>
<path d="M1746 822V836" stroke="#8f9497" stroke-width="1.2" opacity="0.5"/>
</g>
<g filter="url(#soft)"><rect x="334.5" y="849" width="32.800" height="5.600" rx="2" fill="#3b3e3d"/><rect x="335.7" y="856" width="31.800" height="16.400" fill="url(#brk)"/><path d="M335.7 856L335.7 872.400L345.5 872.400Z" fill="#a9a9ac" opacity="0.8"/><rect x="335.7" y="872.300" width="31.800" height="2.200" fill="#f0f0f1"/><path d="M335.7 875.200H367.5" stroke="#4a4c4b" stroke-width="1.400"/><path d="M335.7 876H367.5L361.5 887.500H324.5Z" fill="#dadadc"/><rect x="323.0" y="886.800" width="34" height="7.200" fill="#ebebed"/><path d="M323.1 895H357.0V907H324.3Z" fill="#050505"/><ellipse cx="340.0" cy="901" rx="4" ry="2.400" fill="#f0f0f0"/></g>
<g filter="url(#soft)"><rect x="1560.5" y="849" width="32.800" height="5.600" rx="2" fill="#3b3e3d"/><rect x="1561.7" y="856" width="31.800" height="16.400" fill="url(#brk)"/><path d="M1561.7 856L1561.7 872.400L1571.5 872.400Z" fill="#a9a9ac" opacity="0.8"/><rect x="1561.7" y="872.300" width="31.800" height="2.200" fill="#f0f0f1"/><path d="M1561.7 875.200H1593.5" stroke="#4a4c4b" stroke-width="1.400"/><path d="M1561.7 876H1592.5L1602.7 888H1567.5Z" fill="#d3d3d5"/><rect x="1568.8" y="887.800" width="37" height="6.800" fill="#ebebed"/><path d="M1570.8 895H1604.7L1603.5 907H1570.8Z" fill="#050505"/><ellipse cx="1587.0" cy="901" rx="4" ry="2.400" fill="#f0f0f0"/></g>
<!--WIRES-->
<g id="wires" fill="none" stroke-linecap="round" filter="url(#soft)">
<path d="M1511.2 561.7C1510.4 567.9 1507.4 587.6 1506.3 598.6C1505.2 609.6 1504.7 617.7 1504.4 627.8C1504.1 637.9 1503.9 649.3 1504.4 659.0C1504.9 668.7 1505.8 676.8 1507.3 686.2C1508.8 695.6 1510.9 705.7 1513.2 715.4C1515.5 725.1 1519.1 737.5 1520.9 744.6C1522.7 751.7 1523.4 755.8 1523.9 758.0" stroke="#c3c74a" stroke-width="1.200" opacity="0.9"/>
<path d="M1523.9 758.0C1524.9 760.8 1527.7 770.0 1530.0 775.0C1532.3 780.0 1535.0 784.7 1538.0 788.0C1541.0 791.3 1546.3 793.8 1548.0 795.0" stroke="#c6c640" stroke-width="2"/>
<path d="M1506.5 655.0C1506.8 657.8 1506.4 662.5 1508.0 672.0C1509.6 681.5 1512.9 699.9 1516.0 712.0C1519.1 724.1 1524.5 737.3 1526.8 744.6C1529.1 751.9 1529.5 754.1 1530.0 756.0" stroke="#e6e6e6" stroke-width="1" opacity="0.7"/>
<path d="M1530.0 756.0C1531.0 759.0 1533.8 768.8 1536.0 774.0C1538.2 779.2 1540.6 783.6 1543.0 787.0C1545.4 790.4 1549.2 793.2 1550.5 794.5" stroke="#dcdcdc" stroke-width="1.300" opacity="0.9"/>
<path d="M1357.5 568.0C1362.7 571.2 1375.3 579.0 1388.6 587.0C1401.9 595.0 1422.7 607.0 1437.3 616.1C1451.9 625.2 1466.5 633.9 1476.2 641.4C1485.9 648.9 1490.1 653.4 1495.6 660.9C1501.1 668.4 1505.1 677.1 1509.3 686.2C1513.5 695.3 1517.0 705.7 1520.9 715.4C1524.8 725.1 1530.0 737.8 1532.6 744.6C1535.2 751.4 1535.8 754.3 1536.5 756.2" stroke="#c4472f" stroke-width="1.250"/>
<path d="M1536.5 756.2C1537.2 758.7 1539.4 766.4 1541.0 771.0C1542.6 775.6 1544.2 780.2 1546.0 784.0C1547.8 787.8 1550.6 792.3 1551.5 794.0" stroke="#b0302a" stroke-width="2.200"/>
<path d="M1357.5 567.5C1367.5 572.0 1399.6 586.0 1417.8 594.7C1436.0 603.5 1453.5 611.9 1466.5 620.0C1479.5 628.1 1488.1 635.6 1495.6 643.4C1503.0 651.2 1506.7 657.6 1511.2 666.7C1515.8 675.8 1519.0 686.5 1522.9 697.9C1526.8 709.2 1531.7 725.4 1534.6 734.8C1537.5 744.2 1539.4 751.0 1540.4 754.3" stroke="#3744b8" stroke-width="1.250"/>
<path d="M1540.4 754.3C1541.3 756.9 1543.9 765.2 1546.0 770.0C1548.1 774.8 1550.3 779.2 1553.0 783.0C1555.7 786.8 1560.5 790.9 1562.0 792.5" stroke="#2233a8" stroke-width="2.200"/>
</g>
<!-- logo -->
<g id="logo" opacity="0.62" filter="url(#soft)">
<path d="M48.500 33C53 25 62 21.500 72 22.300C91 24 105 39 112 55L107.500 55.500C101 42 90 28.500 72.500 25.300C62 24 53.500 27.500 48.500 33Z" fill="#ebc65a"/>
<path d="M55.500 28C62 23.800 72 23.800 81 27.500" stroke="#ebc968" stroke-width="1.100" fill="none" opacity="0.8"/>
<path d="M50 33.500C53 36 56 37 58 40.500M60 34C66 35.500 72 35 78 33M64 38.500C68 40 73 39.500 77 37.500" stroke="#ecd180" stroke-width="1" fill="none" opacity="0.7"/>
<path d="M86 36L94 47L98 46" stroke="#ecd180" stroke-width="1" fill="none" opacity="0.6"/>
<path d="M16 58.500C40 62 60 55.500 95 57.500C70 57.500 45 64 16 58.500Z" fill="#ebc65a" stroke="#ebc65a" stroke-width="0.600"/>
<text x="7.500" y="53.500" font-family="Liberation Sans, sans-serif" font-weight="bold" font-style="italic" font-size="20" fill="#ebc24a" textLength="76" lengthAdjust="spacingAndGlyphs">Walrusled</text>
</g>
<!-- leader lines -->
<defs>
<filter id="tsoft" x="-2%" y="-2%" width="104%" height="104%"><feGaussianBlur stdDeviation="0.45"/></filter>
<linearGradient id="ulg" x1="0" y1="0" x2="1" y2="0"><stop offset="0" stop-color="#262626"/><stop offset="0.25" stop-color="#3a3a3a"/><stop offset="0.7" stop-color="#6e6e6e"/><stop offset="1" stop-color="#8a8a8a"/></linearGradient>
</defs>
<g id="leaders" filter="url(#tsoft)">
<path class="ul" d="M787.5 131.7H967.5"/>
<path class="dg" d="M967.5 131.7L1026.3 230.3"/>
<path class="ul" d="M1392 137.8H1609.5"/>
<path class="dg" d="M1609.5 137.8L1819.2 507.5"/>
<path class="ul" d="M290 420H858.3"/>
<path class="dg" d="M858.3 420L916.7 518.3"/>
<path class="ul" d="M1056 410.8H1286.7"/>
<path class="dg" d="M1286.7 410.8L1344.7 509.7"/>
<path class="ul" d="M1473 428.3H1702.5"/>
<path class="dg" d="M1702.5 428.3L1760.9 526.8"/>
<rect x="721.7" y="657.45" width="524.3" height="1.9" fill="url(#ulg)"/>
<path class="dg" d="M721.7 658.3L674.3 571"/>
<path class="ul" d="M129.3 680.8H802.3"/>
<path class="dg" d="M802.3 680.8L861.3 782.3"/>
<rect x="1342.3" y="675.85" width="500.4" height="1.9" fill="url(#ulg)"/>
<path class="dg" d="M1342.3 676.7L1283 577.3"/>
<rect x="941.3" y="926.15" width="362.5" height="1.9" fill="url(#ulg)"/>
<path class="dg" d="M941.3 927L883 827.5"/>
<rect x="412.5" y="982.15" width="318.0" height="1.9" fill="url(#ulg)"/>
<path class="dg" d="M412.5 983L353.8 883.3"/>
</g>
<g id="dots">
<circle class="dot" cx="1026.3" cy="230.3" r="6.900"/>
<circle class="dot" cx="1819.2" cy="507.5" r="6.900"/>
<circle class="dot" cx="916.7" cy="518.3" r="6.900"/>
<circle class="dot" cx="1344.7" cy="509.7" r="6.900"/>
<circle class="dot" cx="1760.9" cy="526.8" r="6.900"/>
<circle class="dot" cx="674.3" cy="571" r="6.900"/>
<circle class="dot" cx="861.3" cy="782.3" r="6.900"/>
<circle class="dot" cx="1283" cy="577.3" r="6.900"/>
<circle class="dot" cx="883" cy="827.5" r="6.900"/>
<circle class="dot" cx="353.8" cy="883.3" r="6.900"/>
</g>
<g id="labels" filter="url(#tsoft)">
<text class="lbl" transform="translate(783.2 116.8) scale(1 1.04)" textLength="171" lengthAdjust="spacing">Diffuser</text>
<text class="lbl" transform="translate(1379.8 117.2) scale(1 1.04)" textLength="232" lengthAdjust="spacing">Test Panel</text>
<text class="lbl" transform="translate(288.2 403.4) scale(1 1.04)" textLength="581" lengthAdjust="spacing">Microwave Sensor(option)</text>
<text class="lbl" transform="translate(1055.7 390) scale(1 1.04)" textLength="238" lengthAdjust="spacing">LED Strips</text>
<text class="lbl" transform="translate(1477.6 405) scale(1 1.04)" textLength="218" lengthAdjust="spacing">Gear Tray</text>
<text class="lbl" transform="translate(732.5 640.2) scale(1 1.04)" textLength="512" lengthAdjust="spacing">Backup Battery(option)</text>
<text class="lbl" transform="translate(136.4 661) scale(1 1.04)" textLength="540" lengthAdjust="spacing">Φ5.0mm<tspan font-size="23" dy="-12.700" dx="2" style="stroke:none">2</tspan><tspan dy="12.700" dx="2.500"> Terminal Block</tspan></text>
<text class="lbl" transform="translate(1396.2 651.8) scale(1 1.04)" textLength="358.5" lengthAdjust="spacing">Clip fixed Driver</text>
<text class="lbl" transform="translate(962.8 913.8) scale(1 1.04)" textLength="344" lengthAdjust="spacing">Luminaire Base</text>
<text class="lbl" transform="translate(419.8 968.8) scale(1 1.04)" textLength="305" lengthAdjust="spacing">Fixed Bracket</text>
</g>
<text class="foot" x="1240.600" y="1069.300" textLength="675" lengthAdjust="spacingAndGlyphs">*Video is for reference only, specific parameters are subject to corresponding Part No.</text>
<rect x="1917" y="0" width="3" height="1080" fill="#000"/>
</svg>
</body>
</html>
